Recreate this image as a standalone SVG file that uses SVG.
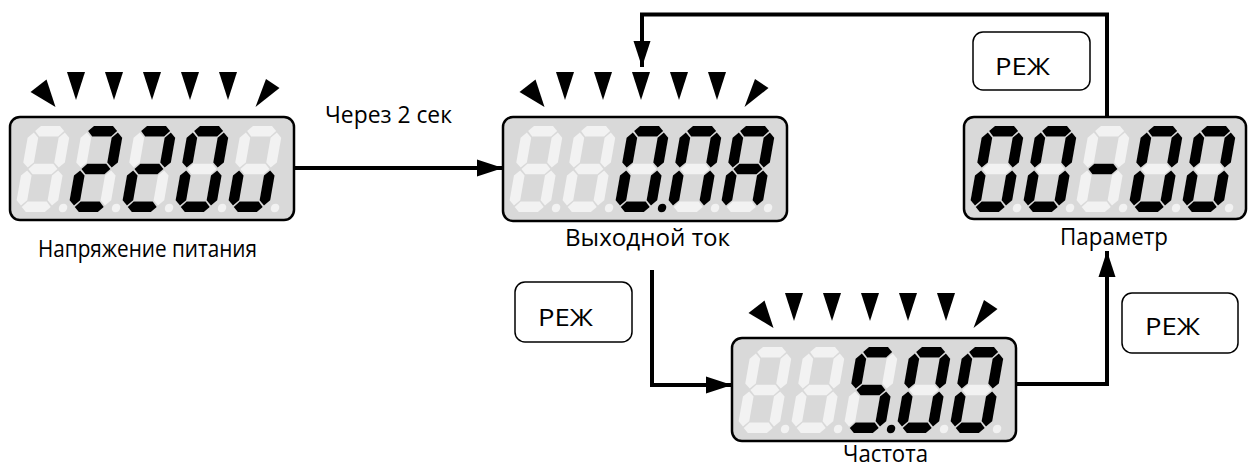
<svg xmlns="http://www.w3.org/2000/svg" xmlns:xlink="http://www.w3.org/1999/xlink" width="1254" height="468" viewBox="0 0 1254 468">
<style>
.box{fill:#d9d9d9;stroke:#000;stroke-width:2.5}
.off{fill:#f2f2f2}
.on{fill:#000}
.btn{fill:#fff;stroke:#000;stroke-width:1.5}
.lbl{font-family:"Open Sans","Noto Sans",sans-serif;font-size:24px;fill:#000}
.conn{fill:none;stroke:#000;stroke-width:4;stroke-linejoin:miter}
</style>
<defs>
<marker id="ah" markerUnits="userSpaceOnUse" markerWidth="27" markerHeight="18" refX="26" refY="9" orient="auto">
<path d="M0,0.5 L26,9 L0,17.5 z" fill="#000"/>
</marker>
<polygon id="sa" points="6,5 11,0 30,0 35,5 30,10.5 11,10.5"/>
<polygon id="sg" points="6,43 11,37.8 30,37.8 35,43 30,48.2 11,48.2"/>
<polygon id="sd" points="6,81 11,75.5 30,75.5 35,81 30,86 11,86"/>
<polygon id="sf" points="5,6.5 10.3,11.8 10.3,36.5 5,41.5 -0.3,36.5 -0.3,11.8"/>
<polygon id="sb" points="36,6.5 41.3,11.8 41.3,36.5 36,41.5 30.7,36.5 30.7,11.8"/>
<polygon id="se" points="5,44.5 10.3,49.5 10.3,74.2 5,79.5 -0.3,74.2 -0.3,49.5"/>
<polygon id="sc" points="36,44.5 41.3,49.5 41.3,74.2 36,79.5 30.7,74.2 30.7,49.5"/>
<circle id="sp" cx="47.5" cy="82" r="4.2"/>
<g id="d8"><use href="#sa"/><use href="#sb"/><use href="#sc"/><use href="#sd"/><use href="#se"/><use href="#sf"/><use href="#sg"/><use href="#sp"/></g>
<g id="g2"><use href="#sa"/><use href="#sb"/><use href="#sg"/><use href="#se"/><use href="#sd"/></g>
<g id="g0"><use href="#sa"/><use href="#sb"/><use href="#sc"/><use href="#sd"/><use href="#se"/><use href="#sf"/></g>
<g id="gu"><use href="#sc"/><use href="#sd"/><use href="#se"/></g>
<g id="gA"><use href="#sa"/><use href="#sb"/><use href="#sc"/><use href="#se"/><use href="#sf"/><use href="#sg"/></g>
<g id="gn"><use href="#sa"/><use href="#sb"/><use href="#sc"/><use href="#se"/><use href="#sf"/></g>
<g id="g5"><use href="#sa"/><use href="#sf"/><use href="#sg"/><use href="#sc"/><use href="#sd"/></g>
<g id="ind" fill="#000">
<polygon points="16.5,-25 32.5,-37.5 41.5,-10"/>
<polygon points="53,-45 71,-45 62,-17"/>
<polygon points="91,-45 109,-45 100,-17"/>
<polygon points="129,-45 147,-45 138,-17"/>
<polygon points="167,-45 185,-45 176,-17"/>
<polygon points="205,-45 223,-45 214,-17"/>
<polygon points="252,-38 265.5,-29 241.5,-10"/>
</g>
</defs>

<g id="connectors">
<path class="conn" d="M294,168 H503" marker-end="url(#ah)"/>
<path class="conn" d="M1107,117 V14.5 H642 V67" marker-end="url(#ah)"/>
<path class="conn" d="M652,270 V385 H732" marker-end="url(#ah)"/>
<path class="conn" d="M1016,384 H1107 V251" marker-end="url(#ah)"/>
<text class="lbl" x="325" y="123" textLength="127" lengthAdjust="spacingAndGlyphs">Через 2 сек</text>
</g>

<g id="disp-voltage">
<use href="#ind" x="14" y="117"/>
<rect class="box" x="10" y="117" width="284" height="103" rx="10"/>
<g transform="translate(30,126) skewX(-10)"><use href="#d8" class="off"/></g>
<g transform="translate(83,126) skewX(-10)"><use href="#d8" class="off"/><use href="#g2" class="on"/></g>
<g transform="translate(136,126) skewX(-10)"><use href="#d8" class="off"/><use href="#g2" class="on"/></g>
<g transform="translate(189,126) skewX(-10)"><use href="#d8" class="off"/><use href="#g0" class="on"/></g>
<g transform="translate(242,126) skewX(-10)"><use href="#d8" class="off"/><use href="#gu" class="on"/></g>
<text class="lbl" x="38" y="257" textLength="219" lengthAdjust="spacingAndGlyphs">Напряжение питания</text>
</g>

<g id="disp-current">
<use href="#ind" x="503" y="117"/>
<rect class="box" x="503" y="117" width="284" height="104" rx="10"/>
<g transform="translate(523,126) skewX(-10)"><use href="#d8" class="off"/></g>
<g transform="translate(576,126) skewX(-10)"><use href="#d8" class="off"/></g>
<g transform="translate(629,126) skewX(-10)"><use href="#d8" class="off"/><use href="#g0" class="on"/><use href="#sp" class="on"/></g>
<g transform="translate(682,126) skewX(-10)"><use href="#d8" class="off"/><use href="#gn" class="on"/></g>
<g transform="translate(735,126) skewX(-10)"><use href="#d8" class="off"/><use href="#gA" class="on"/></g>
<text class="lbl" x="565" y="246" textLength="165" lengthAdjust="spacingAndGlyphs">Выходной ток</text>
</g>

<g id="disp-param">
<rect class="box" x="964" y="117" width="282" height="102" rx="10"/>
<g transform="translate(984,126) skewX(-10)"><use href="#d8" class="off"/><use href="#g0" class="on"/></g>
<g transform="translate(1037,126) skewX(-10)"><use href="#d8" class="off"/><use href="#g0" class="on"/></g>
<g transform="translate(1090,126) skewX(-10)"><use href="#d8" class="off"/><use href="#sg" class="on"/></g>
<g transform="translate(1143,126) skewX(-10)"><use href="#d8" class="off"/><use href="#g0" class="on"/></g>
<g transform="translate(1196,126) skewX(-10)"><use href="#d8" class="off"/><use href="#g0" class="on"/></g>
<text class="lbl" x="1060" y="245" textLength="108" lengthAdjust="spacingAndGlyphs">Параметр</text>
</g>

<g id="disp-freq">
<use href="#ind" x="732" y="338"/>
<rect class="box" x="732" y="338" width="284" height="103" rx="10"/>
<g transform="translate(752,347) skewX(-10)"><use href="#d8" class="off"/></g>
<g transform="translate(805,347) skewX(-10)"><use href="#d8" class="off"/></g>
<g transform="translate(858,347) skewX(-10)"><use href="#d8" class="off"/><use href="#g5" class="on"/><use href="#sp" class="on"/></g>
<g transform="translate(911,347) skewX(-10)"><use href="#d8" class="off"/><use href="#g0" class="on"/></g>
<g transform="translate(964,347) skewX(-10)"><use href="#d8" class="off"/><use href="#g0" class="on"/></g>
<text class="lbl" x="843" y="462" textLength="85" lengthAdjust="spacingAndGlyphs">Частота</text>
</g>

<g id="btn-top">
<rect class="btn" x="973" y="32" width="117" height="58" rx="10"/>
<text class="lbl" x="995" y="75" textLength="55" lengthAdjust="spacingAndGlyphs">РЕЖ</text>
</g>
<g id="btn-left">
<rect class="btn" x="515" y="282" width="117" height="60" rx="10"/>
<text class="lbl" x="538" y="326" textLength="55" lengthAdjust="spacingAndGlyphs">РЕЖ</text>
</g>
<g id="btn-right">
<rect class="btn" x="1122" y="293" width="116" height="60" rx="10"/>
<text class="lbl" x="1145" y="335" textLength="55" lengthAdjust="spacingAndGlyphs">РЕЖ</text>
</g>
</svg>
